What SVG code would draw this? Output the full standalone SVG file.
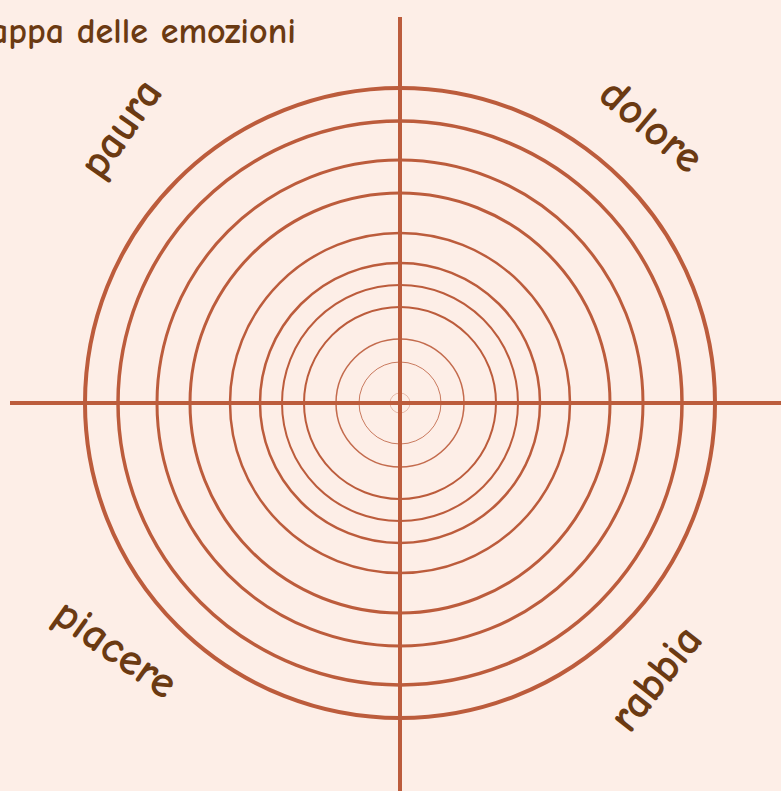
<svg xmlns="http://www.w3.org/2000/svg" width="781" height="791" viewBox="0 0 781 791">
<style>
.ring{fill:none;stroke:#bc5c3c}
.axis{stroke:#bc5c3c;stroke-width:4}
.lbl{font-family:"Comic Neue","Open Sans","DejaVu Sans",sans-serif;fill:#6b3a12;font-size:45px;font-weight:bold;text-anchor:middle;dominant-baseline:central}
.title{font-family:"Comic Neue","Open Sans","DejaVu Sans",sans-serif;fill:#6b3a12;font-size:36px;font-weight:bold}
</style>
<rect width="781" height="791" fill="#fdeee7"/>
<text class="title" x="296" y="43" text-anchor="end">Mappa delle emozioni</text>
<g id="rings">
<circle class="ring" cx="400" cy="403" r="315" stroke-width="4"/>
<circle class="ring" cx="400" cy="403" r="282" stroke-width="3.5"/>
<circle class="ring" cx="400" cy="403" r="243" stroke-width="3"/>
<circle class="ring" cx="400" cy="403" r="210" stroke-width="3"/>
<circle class="ring" cx="400" cy="403" r="170" stroke-width="2.5"/>
<circle class="ring" cx="400" cy="403" r="140" stroke-width="2.5"/>
<circle class="ring" cx="400" cy="403" r="118" stroke-width="2"/>
<circle class="ring" cx="400" cy="403" r="96" stroke-width="2"/>
<circle class="ring" cx="400" cy="403" r="64" stroke-width="1.5" opacity="0.9"/>
<circle class="ring" cx="400" cy="403" r="41" stroke-width="1" opacity="0.8"/>
<circle class="ring" cx="400" cy="403" r="10" stroke-width="1" opacity="0.35"/>
</g>
<g id="axes">
<line class="axis" x1="400" y1="17" x2="400" y2="791"/>
<line class="axis" x1="10" y1="403" x2="781" y2="403"/>
</g>
<g id="label-paura"><text class="lbl" transform="translate(120,128) rotate(-55)">paura</text></g>
<g id="label-dolore"><text class="lbl" transform="translate(652,125) rotate(40)">dolore</text></g>
<g id="label-piacere"><text class="lbl" transform="translate(116,648) rotate(35)">piacere</text></g>
<g id="label-rabbia"><text class="lbl" transform="translate(655,678) rotate(-52)">rabbia</text></g>
</svg>
